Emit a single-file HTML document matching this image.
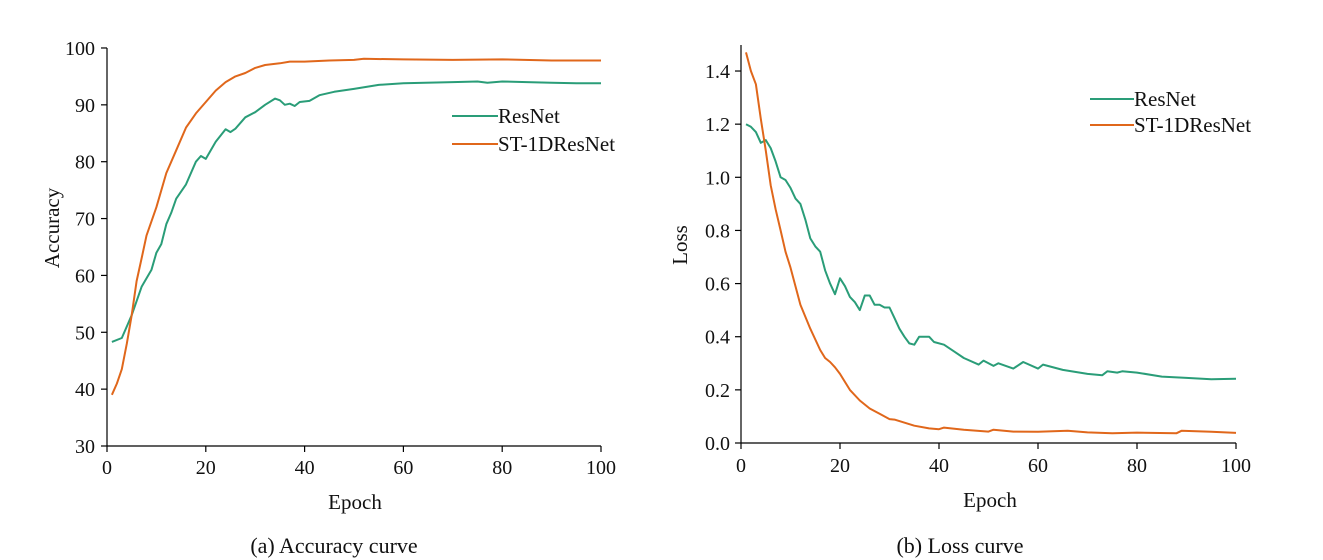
<!DOCTYPE html>
<html><head><meta charset="utf-8"><style>
body{margin:0;background:#fff;}
svg{display:block;font-family:"Liberation Serif",serif;}
</style></head><body>
<svg id="s" width="1323" height="560" xmlns="http://www.w3.org/2000/svg">
<g font-size="21" fill="#111">
<text x="334" y="553" text-anchor="middle" font-size="22">(a) Accuracy curve</text>
<text x="960" y="553" text-anchor="middle" font-size="22">(b) Loss curve</text>
<text x="355" y="509" text-anchor="middle">Epoch</text>
<text x="990" y="507" text-anchor="middle">Epoch</text>
<text transform="translate(59,228) rotate(-90)" text-anchor="middle">Accuracy</text>
<text transform="translate(687,245) rotate(-90)" text-anchor="middle">Loss</text>
<text x="498" y="123">ResNet</text>
<text x="498" y="151">ST-1DResNet</text>
<text x="1134" y="106">ResNet</text>
<text x="1134" y="132">ST-1DResNet</text>
</g>
<line x1="452" y1="116" x2="498" y2="116" stroke="#2a9d78" stroke-width="2"/>
<line x1="452" y1="144" x2="498" y2="144" stroke="#e0671b" stroke-width="2"/>
<line x1="1090" y1="99" x2="1134" y2="99" stroke="#2a9d78" stroke-width="2"/>
<line x1="1090" y1="125" x2="1134" y2="125" stroke="#e0671b" stroke-width="2"/>
<g id="ax"></g>
</svg>
<script>
var s=document.getElementById('ax'),h='';
function L(x1,y1,x2,y2){h+='<line x1="'+x1+'" y1="'+y1+'" x2="'+x2+'" y2="'+y2+'" stroke="#000" stroke-width="1.2"/>';}
function T(x,y,t,a){h+='<text x="'+x+'" y="'+y+'" font-size="20" fill="#111" text-anchor="'+a+'">'+t+'</text>';}
var X1=function(e){return 107+e*4.94},Y1=function(v){return 446-(v-30)*5.686};
L(107,48,107,446);L(107,446,601,446);
for(var v=30;v<=100;v+=10){var y=Y1(v);L(101,y,107,y);T(95,y+7,v,'end');}
for(var e=0;e<=100;e+=20){var x=X1(e);L(x,446,x,452);T(x,474,e,'middle');}
var X2=function(e){return 741+e*4.95},Y2=function(v){return 443-v*265.7};
L(741,45,741,443);L(741,443,1236,443);
for(var i=0;i<=7;i++){var v=i*0.2,y=Y2(v);L(735,y,741,y);T(730,y+7,v.toFixed(1),'end');}
for(var e=0;e<=100;e+=20){var x=X2(e);L(x,443,x,449);T(x,472,e,'middle');}
function P(d,X,Y,c){var p=[];for(var i=0;i<d.length;i+=2)p.push(X(d[i]).toFixed(1)+','+Y(d[i+1]).toFixed(1));
h+='<polyline points="'+p.join(' ')+'" fill="none" stroke="'+c+'" stroke-width="2" stroke-linejoin="round"/>';}
var ra=[1,48.3,3,49,5,53,7,58,9,61,10,64,11,65.5,12,69,13,71,14,73.5,16,76,18,80,19,81,20,80.5,22,83.5,24,85.7,25,85.2,26,85.8,28,87.8,30,88.7,32,90,34,91.1,35,90.8,36,90,37,90.2,38,89.8,39,90.5,41,90.7,43,91.7,46,92.3,50,92.8,55,93.5,60,93.8,70,94,75,94.1,77,93.9,80,94.1,85,94,90,93.9,95,93.8,100,93.8];
var sa=[1,39,2,41,3,43.5,4,48,5,53,6,59,7,63,8,67,10,72,12,78,14,82,16,86,18,88.5,20,90.5,22,92.5,24,94,26,95,28,95.6,30,96.5,32,97,35,97.3,37,97.6,40,97.6,45,97.8,50,97.9,52,98.1,60,98,70,97.9,80,98,90,97.8,100,97.8];
var rl=[1,1.2,2,1.19,3,1.17,4,1.13,5,1.14,6,1.11,7,1.06,8,1.0,9,0.99,10,0.96,11,0.92,12,0.90,13,0.84,14,0.77,15,0.74,16,0.72,17,0.65,18,0.60,19,0.56,20,0.62,21,0.59,22,0.55,23,0.53,24,0.50,25,0.555,26,0.555,27,0.52,28,0.52,29,0.51,30,0.51,31,0.47,32,0.43,33,0.40,34,0.375,35,0.37,36,0.40,37,0.40,38,0.40,39,0.38,41,0.37,43,0.345,45,0.32,48,0.295,49,0.31,51,0.29,52,0.30,55,0.28,57,0.305,60,0.28,61,0.295,65,0.275,70,0.26,73,0.255,74,0.27,76,0.265,77,0.27,80,0.265,85,0.25,90,0.245,95,0.24,100,0.242];
var sl=[1,1.47,2,1.40,3,1.35,4,1.22,5,1.10,6,0.97,7,0.88,8,0.80,9,0.72,10,0.66,12,0.52,14,0.43,16,0.35,17,0.32,18,0.305,19,0.285,20,0.26,22,0.20,24,0.16,26,0.13,28,0.11,30,0.09,31,0.088,35,0.065,38,0.055,40,0.052,41,0.058,45,0.05,50,0.043,51,0.05,55,0.043,60,0.042,66,0.046,70,0.04,75,0.037,80,0.039,88,0.037,89,0.046,95,0.042,100,0.038];
P(ra,X1,Y1,'#2a9d78');P(sa,X1,Y1,'#e0671b');P(rl,X2,Y2,'#2a9d78');P(sl,X2,Y2,'#e0671b');
s.innerHTML=h;
</script>
</body></html>
